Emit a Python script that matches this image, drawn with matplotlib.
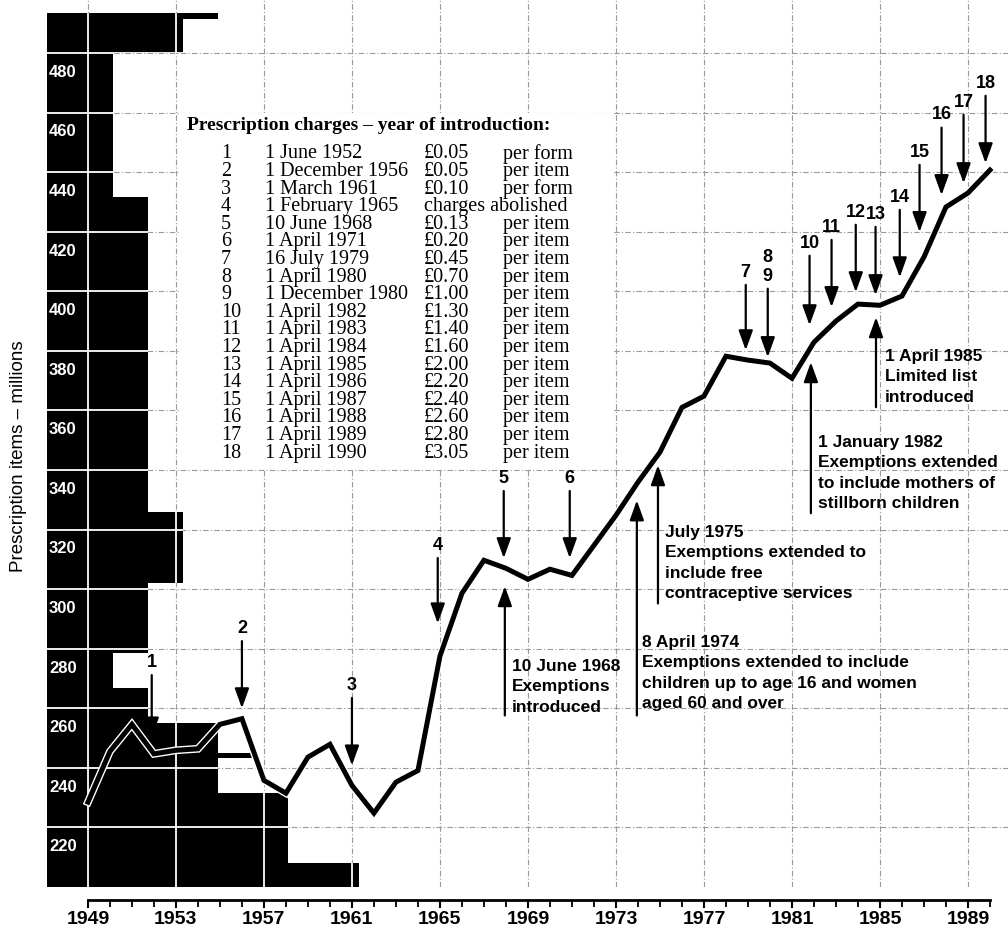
import matplotlib
matplotlib.use('Agg')
import matplotlib.pyplot as plt
import matplotlib.patheffects as pe
from matplotlib.patches import Polygon, Rectangle, ArrowStyle

# prescription items, millions
years = list(range(1949, 1991))
items = [228.5, 245.5, 254.6, 244.7, 245.9, 246.4, 254.6, 256.5, 235.8, 231.5,
         243.6, 247.9, 234.1, 224.8, 235.2, 239.1, 277.5, 298.6, 309.7, 307.0,
         303.3, 306.7, 304.6, 314.7, 324.8, 335.9, 346.0, 361.0, 364.8, 378.2,
         376.9, 375.9, 370.8, 382.9, 390.0, 395.7, 395.3, 398.4, 411.5, 428.3,
         433.0, 440.7]

# black staircase behind the left part (band boundaries top->bottom, right edge of each band)
black_bounds = [493.4, 491.4, 480.0, 431.6, 325.8, 302.0, 278.4, 266.7, 254.9, 244.9, 243.2, 231.4, 207.9, 200.0]
black_edges = [1954.9, 1953.3, 1950.15, 1951.75, 1953.3, 1951.75, 1950.15, 1951.75, 1954.9, 1956.6, 1954.9, 1958.1, 1961.3]

# charges table
charge_no = [str(i) for i in range(1, 19)]
charge_dates = ['1 June 1952', '1 December 1956', '1 March 1961', '1 February 1965', '10 June 1968',
                '1 April 1971', '16 July 1979', '1 April 1980', '1 December 1980', '1 April 1982',
                '1 April 1983', '1 April 1984', '1 April 1985', '1 April 1986', '1 April 1987',
                '1 April 1988', '1 April 1989', '1 April 1990']
charge_amounts = ['£0.05', '£0.05', '£0.10', 'charges abolished', '£0.13', '£0.20', '£0.45', '£0.70',
                  '£1.00', '£1.30', '£1.40', '£1.60', '£2.00', '£2.20', '£2.40', '£2.60', '£2.80', '£3.05']
charge_basis = ['per form', 'per item', 'per form', '', 'per item', 'per item', 'per item', 'per item',
                'per item', 'per item', 'per item', 'per item', 'per item', 'per item', 'per item',
                'per item', 'per item', 'per item']

# down arrows (charge changes): label, x, label value, tip value
down_labels = ['1', '2', '3', '4', '5', '6', '7', '8\n9', '10', '11', '12', '13', '14', '15', '16', '17', '18']
down_x = [1951.9, 1956.0, 1961.0, 1964.9, 1967.9, 1970.9, 1978.9, 1979.9, 1981.8, 1982.8,
          1983.9, 1984.8, 1985.9, 1986.8, 1987.8, 1988.8, 1989.8]
down_label_val = [275.4, 286.8, 267.7, 314.7, 337.2, 337.2, 406.4, 408.2, 416.2, 421.5,
                  426.6, 425.9, 431.6, 446.7, 459.2, 463.5, 469.9]
down_tip_val = [250.2, 260.0, 240.8, 288.5, 310.4, 310.4, 380.2, 377.9, 388.6, 394.7,
                399.7, 398.7, 404.7, 419.9, 432.3, 436.3, 443.0]

# up arrows (exemptions)
notes = ['10 June 1968\nExemptions\nintroduced',
         '8 April 1974\nExemptions extended to include\nchildren up to age 16 and women\naged 60 and over',
         'July 1975\nExemptions extended to\ninclude free\ncontraceptive services',
         '1 January 1982\nExemptions extended\nto include mothers of\nstillborn children',
         '1 April 1985\nLimited list\nintroduced']
note_x = [1967.95, 1973.95, 1974.91, 1981.86, 1984.82]
note_tail = [257.6, 257.6, 295.2, 325.5, 361.1]
note_tip = [301.0, 329.8, 341.6, 376.2, 391.3]
note_text_x = [1968.27, 1974.18, 1975.23, 1982.18, 1985.23]
note_text_top = [276.6, 284.7, 321.6, 351.8, 380.7]

ytick_vals = list(range(220, 500, 20))
cond = ['Liberation Sans', 'DejaVu Sans']
serif = ['Liberation Serif', 'DejaVu Serif']

fig = plt.figure(figsize=(10.08, 9.27), dpi=100)
ax = fig.add_axes([47/1008, 40/927, 961/1008, 887/927])
ax.set_xlim(1947.14, 1990.82)
ax.set_ylim(200, 497.8)
x0 = ax.get_xlim()[0]

# grey grid
for gx in years[::4]:
    ax.axvline(gx, color='#9a9a9a', lw=0.8, ls=(0, (5, 2, 1, 2)), zorder=1)
for gy in ytick_vals:
    ax.axhline(gy, color='#9a9a9a', lw=0.8, ls=(0, (5, 2, 1, 2)), zorder=1)

# black block
verts = [(x0, black_bounds[0])]
for i, edge in enumerate(black_edges):
    verts.append((edge, black_bounds[i]))
    verts.append((edge, black_bounds[i + 1]))
verts.append((x0, black_bounds[-1]))
black = Polygon(verts, closed=True, fc='black', ec='none', zorder=2)
ax.add_patch(black)

# white grid on top of the black
for gx in years[::4]:
    l = ax.axvline(gx, color='white', lw=1.3, zorder=3)
    l.set_clip_path(black)
for gy in ytick_vals:
    l = ax.axhline(gy, color='white', lw=1.3, zorder=3)
    l.set_clip_path(black)

# y labels inside the black strip
for v in ytick_vals:
    ax.annotate(str(v), xy=(0, v), xycoords=ax.get_yaxis_transform(), xytext=(1.5, -8.5),
                textcoords='offset points', ha='left', va='top', color='white',
                fontsize=12, fontweight='bold', family=cond, zorder=4)

# table
ax.add_patch(Rectangle((1953.12, 340.3), 1972.9 - 1953.12, 459.7 - 340.3, fc='white', ec='none', zorder=2.5))
ax.text(0.1457, 0.858, 'Prescription charges – year of introduction:', transform=ax.transAxes,
        ha='left', va='center', fontsize=14, fontweight='bold', family=serif, zorder=6)
for i in range(len(charge_no)):
    ty = 0.8264 - 0.01984 * i
    ax.text(0.1811, ty, charge_no[i], transform=ax.transAxes, ha='left', va='center', fontsize=14.5, family=serif, zorder=6)
    ax.text(0.2268, ty, charge_dates[i], transform=ax.transAxes, ha='left', va='center', fontsize=14.5, family=serif, zorder=6)
    ax.text(0.3923, ty, charge_amounts[i], transform=ax.transAxes, ha='left', va='center', fontsize=14.5, family=serif, zorder=6)
    ax.text(0.4745, ty, charge_basis[i], transform=ax.transAxes, ha='left', va='center', fontsize=14.5, family=serif, zorder=6)

# the line
ax.plot(years, items, color='black', lw=3.6, solid_joinstyle='miter', zorder=5,
        path_effects=[pe.Stroke(linewidth=5.6, foreground='white'), pe.Normal()])

head = ArrowStyle('-|>', head_length=1.0, head_width=0.36)
for lab, x, ly, ty in zip(down_labels, down_x, down_label_val, down_tip_val):
    ax.annotate(lab, xy=(x, ty), xytext=(x, ly), ha='center', va='center', fontsize=13,
                fontweight='bold', family=cond, linespacing=1.1, zorder=6,
                arrowprops=dict(arrowstyle=head, color='black', lw=1.6, mutation_scale=12,
                                shrinkA=1, shrinkB=0))

for txt, x, tail, tip, tx, tt in zip(notes, note_x, note_tail, note_tip, note_text_x, note_text_top):
    ax.annotate('', xy=(x, tip), xytext=(x, tail), zorder=6,
                arrowprops=dict(arrowstyle=head, color='black', lw=1.6, mutation_scale=12,
                                shrinkA=0, shrinkB=0))
    ax.text(tx, tt, txt, ha='left', va='top', fontsize=12.5, fontweight='bold', family=cond,
            linespacing=1.45, zorder=6)

# x axis
for s in ['top', 'right', 'left']:
    ax.spines[s].set_visible(False)
ax.spines['bottom'].set_position(('outward', 9.5))
ax.spines['bottom'].set_bounds(1949, 1990)
ax.spines['bottom'].set_linewidth(2)
ax.set_xticks(years[::4])
ax.set_xticks(years, minor=True)
ax.set_xticklabels([str(y) for y in years[::4]], fontsize=14, fontweight='bold', family=cond)
ax.tick_params(axis='x', which='major', length=6, width=1.5, pad=2)
ax.tick_params(axis='x', which='minor', length=5, width=1.3)
ax.set_yticks([])

fig.text(0.018, 0.508, 'Prescription items – millions', rotation=90, ha='center', va='center',
         fontsize=13.5, family=cond)

fig.savefig('out.png', dpi=100)
